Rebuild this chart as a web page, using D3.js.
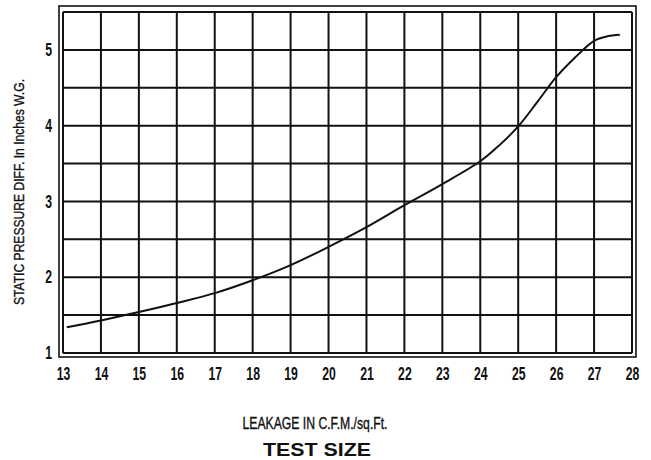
<!DOCTYPE html>
<html>
<head>
<meta charset="utf-8">
<script src="https://cdn.jsdelivr.net/npm/d3@7"></script>
<style>
  body { margin: 0; background: #fff; }
  text { font-family: "Liberation Sans", Arial, sans-serif; fill: #111; }
</style>
</head>
<body>
<svg width="651" height="460"></svg>
<script>
// data
var leakage  = [13.1, 14, 15, 16, 17, 18, 19, 20, 21, 22, 23, 24, 24.5, 25, 25.5, 26, 26.5, 27, 27.35, 27.68];
var pressure = [1.34, 1.43, 1.54, 1.66, 1.79, 1.96, 2.16, 2.40, 2.66, 2.95, 3.23, 3.53, 3.74, 3.99, 4.31, 4.64, 4.90, 5.12, 5.18, 5.20];

var xTicks = d3.range(13, 29);          // 13 .. 28
var yTicks = [1, 2, 3, 4, 5];
var xGrid  = d3.range(13, 28.5, 1);
var yGrid  = d3.range(1, 5.75, 0.5);

var svg = d3.select("svg");

var x = d3.scaleLinear().domain([13, 28]).range([63, 632]);
var y = d3.scaleLinear().domain([1, 5.5]).range([353, 12]);

// double frame
svg.append("rect")
    .attr("x", 59).attr("y", 6)
    .attr("width", 577).attr("height", 351)
    .attr("fill", "none").attr("stroke", "#111").attr("stroke-width", 1.6);

// grid
var grid = svg.append("g").attr("stroke", "#111").attr("stroke-width", 2);
grid.selectAll(".vx").data(xGrid).enter().append("line")
    .attr("x1", function(d){ return x(d); }).attr("x2", function(d){ return x(d); })
    .attr("y1", y(5.5)).attr("y2", y(1));
grid.selectAll(".hy").data(yGrid).enter().append("line")
    .attr("y1", function(d){ return y(d); }).attr("y2", function(d){ return y(d); })
    .attr("x1", x(13)).attr("x2", x(28));

// axes (labels only) - condensed look by squeezing horizontally
var xa = svg.append("g")
    .attr("transform", "translate(0," + y(1) + ")")
    .call(d3.axisBottom(x).tickValues(xTicks).tickSize(0).tickPadding(14).tickFormat(d3.format("d")));
xa.select(".domain").remove();
xa.selectAll("text").style("font-size", "18px").style("font-weight", "bold").attr("fill", "#111")
    .attr("transform", "scale(0.68,1)");

var ya = svg.append("g")
    .attr("transform", "translate(" + x(13) + ",0)")
    .call(d3.axisLeft(y).tickValues(yTicks).tickSize(0).tickPadding(16).tickFormat(d3.format("d")));
ya.select(".domain").remove();
ya.selectAll("text").style("font-size", "18px").style("font-weight", "bold").attr("fill", "#111")
    .attr("transform", "scale(0.68,1)");

// curve
var pts = leakage.map(function(d, i){ return [d, pressure[i]]; });
svg.append("path")
    .datum(pts)
    .attr("fill", "none")
    .attr("stroke", "#111")
    .attr("stroke-width", 2)
    .attr("d", d3.line()
        .x(function(d){ return x(d[0]); })
        .y(function(d){ return y(d[1]); })
        .curve(d3.curveCatmullRom));

// titles
svg.append("text")
    .attr("transform", "translate(24,192) rotate(-90)")
    .attr("text-anchor", "middle")
    .style("font-size", "15px")
    .style("stroke", "#111").style("stroke-width", 0.35)
    .attr("textLength", 226)
    .attr("lengthAdjust", "spacingAndGlyphs")
    .text("STATIC PRESSURE DIFF. In Inches W.G.");

svg.append("text")
    .attr("x", 315).attr("y", 429)
    .attr("text-anchor", "middle")
    .style("font-size", "16px")
    .style("stroke", "#111").style("stroke-width", 0.35)
    .attr("textLength", 145)
    .attr("lengthAdjust", "spacingAndGlyphs")
    .text("LEAKAGE IN C.F.M./sq.Ft.");

svg.append("text")
    .attr("x", 317).attr("y", 456)
    .attr("text-anchor", "middle")
    .style("font-size", "19px")
    .style("font-weight", "bold")
    .attr("textLength", 108)
    .attr("lengthAdjust", "spacingAndGlyphs")
    .text("TEST SIZE");
</script>
</body>
</html>
